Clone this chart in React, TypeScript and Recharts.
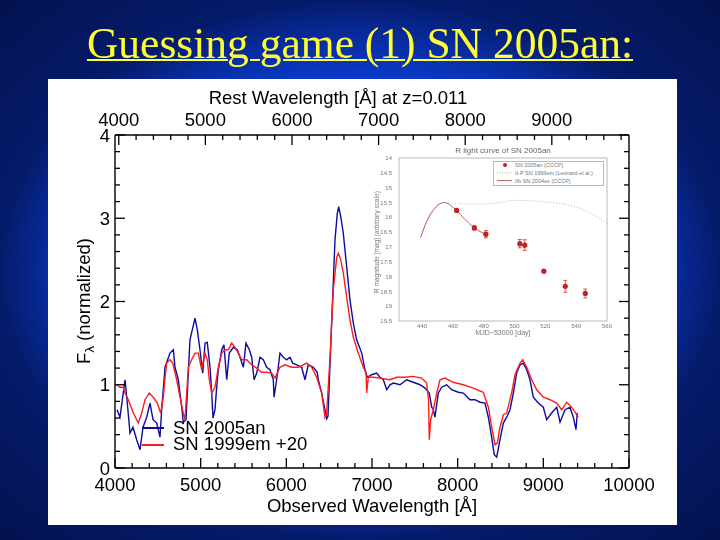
import { ComposedChart, Line, Scatter, ErrorBar, XAxis, YAxis, Legend } from "recharts";

// ---- spectrum data (observed wavelength in Å, normalized flux) ----
const blueWave = [
  4023, 4058, 4117, 4140, 4175, 4210, 4253, 4292, 4327, 4370,
  4409, 4444, 4487, 4525, 4545, 4584, 4642, 4681, 4700, 4739,
  4779, 4797, 4829, 4875, 4934, 4961, 4992, 5024, 5051, 5077,
  5109, 5129, 5144, 5167, 5187, 5206, 5246, 5272, 5304, 5334,
  5381, 5428, 5459, 5498, 5529, 5568, 5596, 5623, 5654, 5693,
  5731, 5771, 5809, 5848, 5856, 5887, 5926, 5965, 6004, 6043,
  6074, 6121, 6179, 6218, 6256, 6315, 6361, 6373, 6413, 6451,
  6471, 6486, 6529, 6568, 6595, 6611, 6635, 6665, 6705, 6743,
  6782, 6821, 6880, 6918, 6945, 6997, 7055, 7093, 7132, 7172,
  7210, 7249, 7327, 7405, 7482, 7560, 7619, 7669, 7697, 7716,
  7735, 7774, 7814, 7872, 7930, 8007, 8066, 8144, 8202, 8261,
  8319, 8358, 8397, 8427, 8456, 8494, 8533, 8572, 8611, 8650,
  8689, 8728, 8766, 8806, 8844, 8883, 8941, 9000, 9039, 9097,
  9156, 9195, 9253, 9311, 9350, 9381, 9396,
];
const blueFlux = [
  0.70, 0.61, 1.06, 0.82, 0.42, 0.49, 0.34, 0.22, 0.49, 0.61,
  0.78, 0.58, 0.54, 0.37, 0.70, 1.21, 1.38, 1.42, 1.21, 1.06,
  0.73, 0.55, 0.58, 1.54, 1.80, 1.66, 1.42, 1.14, 1.50, 1.51,
  1.21, 0.90, 0.60, 0.70, 0.97, 1.18, 1.42, 1.48, 1.06, 1.38,
  1.45, 1.42, 1.33, 1.21, 1.50, 1.42, 1.33, 1.06, 1.14, 1.33,
  1.30, 1.21, 1.18, 1.06, 0.85, 1.06, 1.38, 1.33, 1.30, 1.33,
  1.26, 1.24, 1.21, 1.06, 1.24, 1.21, 1.15, 1.06, 0.90, 0.70,
  0.59, 0.62, 1.74, 2.74, 3.06, 3.14, 3.02, 2.82, 2.41, 2.02,
  1.74, 1.54, 1.38, 1.18, 1.09, 1.12, 1.14, 1.09, 1.06, 0.94,
  1.00, 1.02, 1.00, 1.06, 1.03, 1.00, 0.96, 0.90, 0.73, 0.70,
  0.61, 0.90, 0.97, 1.00, 0.94, 0.91, 0.90, 0.82, 0.82, 0.79,
  0.78, 0.61, 0.37, 0.16, 0.13, 0.34, 0.54, 0.61, 0.70, 0.90,
  1.14, 1.24, 1.26, 1.18, 1.06, 0.85, 0.78, 0.73, 0.58, 0.66,
  0.73, 0.55, 0.70, 0.73, 0.61, 0.46, 0.66,
];
const redWave = [
  4023, 4058, 4097, 4117, 4155, 4214, 4272, 4312, 4350, 4400,
  4447, 4494, 4533, 4564, 4584, 4604, 4642, 4674, 4720, 4759,
  4797, 4817, 4856, 4895, 4934, 4972, 5012, 5051, 5077, 5101,
  5129, 5167, 5206, 5246, 5284, 5323, 5362, 5401, 5439, 5479,
  5537, 5596, 5654, 5712, 5771, 5829, 5868, 5926, 5984, 6063,
  6140, 6238, 6296, 6354, 6413, 6451, 6471, 6510, 6548, 6588,
  6607, 6635, 6665, 6705, 6743, 6782, 6840, 6898, 6930, 6938,
  6957, 7015, 7093, 7210, 7288, 7385, 7482, 7580, 7638, 7660,
  7669, 7685, 7716, 7755, 7794, 7852, 7949, 8066, 8182, 8299,
  8358, 8397, 8436, 8463, 8494, 8533, 8572, 8630, 8669, 8728,
  8759, 8806, 8864, 8922, 9000, 9078, 9156, 9214, 9273, 9331,
  9370, 9408,
];
const redFlux = [
  1.00, 0.97, 0.97, 0.90, 0.82, 0.66, 0.54, 0.66, 0.82, 0.90,
  0.85, 0.78, 0.66, 0.85, 1.09, 1.26, 1.30, 1.26, 1.06, 0.85,
  0.66, 0.58, 1.21, 1.30, 1.38, 1.38, 1.18, 1.38, 1.30, 1.06,
  0.90, 0.97, 1.21, 1.38, 1.42, 1.42, 1.50, 1.45, 1.38, 1.30,
  1.30, 1.24, 1.20, 1.15, 1.15, 1.14, 1.08, 1.21, 1.24, 1.21,
  1.21, 1.26, 1.21, 1.09, 0.90, 0.61, 0.66, 1.33, 2.14, 2.53,
  2.58, 2.50, 2.34, 2.05, 1.78, 1.57, 1.38, 1.21, 1.15, 0.90,
  1.09, 1.09, 1.08, 1.06, 1.09, 1.09, 1.10, 1.08, 1.02, 0.82,
  0.34, 0.58, 0.70, 0.90, 1.06, 1.08, 1.03, 1.00, 0.96, 0.91,
  0.73, 0.49, 0.28, 0.30, 0.49, 0.64, 0.66, 0.90, 1.12, 1.26,
  1.30, 1.21, 1.06, 0.94, 0.85, 0.82, 0.78, 0.70, 0.79, 0.73,
  0.67, 0.61,
];

const Z = 0.011;
const obsTicks = Array.from({ length: 31 }, (_, i) => 4000 + i * 200);
const restTicks = Array.from({ length: 30 }, (_, i) => 4000 + i * 200);
const fluxTicks = Array.from({ length: 21 }, (_, i) => +(i * 0.2).toFixed(1));
const specNames = ["SN 2005an", "SN 1999em +20"];

// ---- inset light curve ----
const lcDay = [462.4, 473.9, 481.4, 503.4, 506.6, 519.0, 532.9, 545.9];
const lcMag = [15.77, 16.36, 16.57, 16.89, 16.94, 17.82, 18.33, 18.57];
const lcErr = [0.04, 0.07, 0.12, 0.14, 0.18, 0.05, 0.2, 0.15];
const iipDay = [439, 446.5, 454.5, 462.8, 478, 490, 499.7, 517, 534.4, 547.4, 560];
const iipMag = [16.68, 15.86, 15.5, 15.55, 15.55, 15.5, 15.43, 15.47, 15.58, 15.81, 16.2];
const iibDay = [439, 443.3, 448.7, 454.5, 460.6, 469.3, 475.8, 481.4];
const iibMag = [16.68, 16.1, 15.66, 15.5, 15.69, 16.15, 16.43, 16.57];
const dayTicks = [440, 460, 480, 500, 520, 540, 560];
const magTicks = [14, 14.5, 15, 15.5, 16, 16.5, 17, 17.5, 18, 18.5, 19, 19.5];
const insetNames = ["SN 2005an (CCCP)", "II-P SN 1999em (Leonard et al.)", "IIb SN 2004ex (CCCP)"];

const blueData = blueWave.map((w, i) => ({ w, f: blueFlux[i] }));
const redData = redWave.map((w, i) => ({ w, f: redFlux[i] }));
const lcData = lcDay.map((d, i) => ({ d, m: lcMag[i], err: lcErr[i] }));
const iipData = iipDay.map((d, i) => ({ d, m: iipMag[i] }));
const iibData = iibDay.map((d, i) => ({ d, m: iibMag[i] }));

const FONT = "'Liberation Sans', Arial, Helvetica, sans-serif";
const FS = 18.5;
const BLUE = "#0c0ca0";
const RED = "#ff1c1c";
const near = (v: number, step: number) => Math.abs(v / step - Math.round(v / step)) < 1e-6;

function BottomTick({ x = 0, y = 0, payload }: any) {
  const v = payload?.value ?? 0;
  const major = near(v, 1000);
  return (
    <g>
      <line x1={x} y1={y} x2={x} y2={y - (major ? 10 : 5)} stroke="#000" strokeWidth={1.3} />
      {major && (
        <text x={x} y={y + 23} textAnchor="middle" fontSize={FS} fontFamily={FONT} fill="#000">
          {v}
        </text>
      )}
    </g>
  );
}

function TopTick({ x = 0, y = 0, payload }: any) {
  const v = payload?.value ?? 0;
  const major = near(v, 1000);
  return (
    <g>
      <line x1={x} y1={y} x2={x} y2={y + (major ? 10 : 5)} stroke="#000" strokeWidth={1.3} />
      {major && (
        <text x={x} y={y - 9} textAnchor="middle" fontSize={FS} fontFamily={FONT} fill="#000">
          {v}
        </text>
      )}
    </g>
  );
}

function LeftTick({ x = 0, y = 0, payload }: any) {
  const v = payload?.value ?? 0;
  const major = near(v, 1);
  return (
    <g>
      <line x1={x} y1={y} x2={x + (major ? 10 : 5)} y2={y} stroke="#000" strokeWidth={1.3} />
      {major && (
        <text x={x - 5} y={y + 6.5} textAnchor="end" fontSize={FS} fontFamily={FONT} fill="#000">
          {Math.round(v)}
        </text>
      )}
    </g>
  );
}

function RightTick({ x = 0, y = 0, payload }: any) {
  const v = payload?.value ?? 0;
  const major = near(v, 1);
  return <line x1={x} y1={y} x2={x - (major ? 10 : 5)} y2={y} stroke="#000" strokeWidth={1.3} />;
}

function InsetXTick({ x = 0, y = 0, payload }: any) {
  return (
    <text x={x} y={y + 7} textAnchor="middle" fontSize={6} fontFamily={FONT} fill="#777">
      {payload?.value}
    </text>
  );
}

function InsetYTick({ x = 0, y = 0, payload }: any) {
  return (
    <text x={x - 7} y={y + 2.2} textAnchor="end" fontSize={6} fontFamily={FONT} fill="#777">
      {payload?.value}
    </text>
  );
}

const frame = { stroke: "#000", strokeWidth: 1.4 };
const grayFrame = { stroke: "#a8a8a8", strokeWidth: 0.8 };

function SpecLegend({ payload }: any) {
  const items = specNames
    .map((n) => (payload ?? []).find((p: any) => p.value === n))
    .filter(Boolean);
  return (
    <svg width={200} height={42}>
      {items.map((it: any, i: number) => (
        <g key={it.value}>
          <line x1={4} x2={26} y1={12 + 17 * i} y2={12 + 17 * i} stroke={it.color} strokeWidth={2} />
          <text x={35} y={18 + 15.5 * i} fontSize={FS} fontFamily={FONT} fill="#000">
            {it.value}
          </text>
        </g>
      ))}
    </svg>
  );
}

function InsetLegend() {
  const rows = [4, 11.7, 19.6];
  return (
    <svg width={111} height={25}>
      <rect x={0.5} y={0.5} width={110} height={24} fill="#fff" stroke="#aaa" strokeWidth={0.8} />
      <circle cx={12} cy={rows[0]} r={2} fill="#c81e1e" />
      <line x1={4} x2={19} y1={rows[1]} y2={rows[1]} stroke="#a0a0a0" strokeWidth={0.8} strokeDasharray="1 1.5" />
      <line x1={4} x2={19} y1={rows[2]} y2={rows[2]} stroke="#c06060" strokeWidth={1} />
      {insetNames.map((n, i) => (
        <text key={n} x={22} y={rows[i] + 2} fontSize={5.5} fontFamily={FONT} fill="#777">
          {n}
        </text>
      ))}
    </svg>
  );
}

export default function App() {
  return (
    <div
      style={{
        position: "fixed",
        left: 0,
        top: 0,
        width: 720,
        height: 540,
        overflow: "hidden",
        background:
          "radial-gradient(ellipse at 50% 50%, #0d41d9 0%, #0b3bcc 50%, #082c9e 61%, #051b6a 71%, #03124f 100%)",
      }}
    >
      <div
        style={{
          position: "absolute",
          left: 0,
          top: 22,
          width: 720,
          textAlign: "center",
          fontFamily: "'Liberation Serif', 'Times New Roman', serif",
          fontSize: 43.5,
          lineHeight: "42px",
          color: "#ffff33",
          textDecoration: "underline",
          textDecorationThickness: 2,
          whiteSpace: "nowrap",
        }}
      >
        Guessing game (1) SN 2005an:
      </div>

      <div style={{ position: "absolute", left: 48, top: 79, width: 629, height: 446, background: "#fff" }}>
        <ComposedChart width={629} height={446} margin={{ top: 26, right: 28, bottom: 27, left: 27 }}>
          <XAxis
            xAxisId="obs"
            dataKey="w"
            type="number"
            domain={[4000, 10000]}
            allowDataOverflow
            ticks={obsTicks}
            interval={0}
            tickSize={0}
            tickMargin={0}
            tickLine={false}
            tick={BottomTick}
            axisLine={frame}
            height={30}
            label={() => (
              <text x={324} y={433} textAnchor="middle" fontSize={FS} fontFamily={FONT} fill="#000">
                Observed Wavelength [Å]
              </text>
            )}
          />
          {/* rest-frame axis of SN 2005an: same points, wavelength divided by (1+z) */}
          <XAxis
            xAxisId="rest"
            orientation="top"
            dataKey={(d: any) => d.w / (1 + Z)}
            type="number"
            domain={[4000 / (1 + Z), 10000 / (1 + Z)]}
            allowDataOverflow
            ticks={restTicks}
            interval={0}
            tickSize={0}
            tickMargin={0}
            tickLine={false}
            tick={TopTick}
            axisLine={frame}
            height={30}
            label={() => (
              <text x={290} y={25} textAnchor="middle" fontSize={FS} fontFamily={FONT} fill="#000">
                Rest Wavelength [Å] at z=0.011
              </text>
            )}
          />
          <YAxis
            yAxisId="f"
            type="number"
            domain={[0, 4]}
            allowDataOverflow
            ticks={fluxTicks}
            interval={0}
            tickSize={0}
            tickMargin={0}
            tickLine={false}
            tick={LeftTick}
            axisLine={frame}
            width={40}
            label={() => (
              <text
                x={42}
                y={222}
                transform="rotate(-90 42 222)"
                textAnchor="middle"
                fontSize={FS}
                fontFamily={FONT}
                fill="#000"
              >
                F
                <tspan dy={4} fontSize={13}>
                  λ
                </tspan>
                <tspan dy={-4}> (normalized)</tspan>
              </text>
            )}
          />
          <YAxis
            yAxisId="r"
            orientation="right"
            type="number"
            domain={[0, 4]}
            allowDataOverflow
            ticks={fluxTicks}
            interval={0}
            tickSize={0}
            tickMargin={0}
            tickLine={false}
            tick={RightTick}
            axisLine={frame}
            width={20}
          />
          <Legend
            layout="vertical"
            align="center"
            verticalAlign="middle"
            content={SpecLegend}
            wrapperStyle={{ left: 90, top: 337, width: 200, height: 42 }}
          />
          <Line
            xAxisId="rest"
            yAxisId="f"
            data={blueData}
            dataKey="f"
            name={specNames[0]}
            type="linear"
            stroke={BLUE}
            strokeWidth={1.4}
            dot={false}
            isAnimationActive={false}
          />
          <Line
            xAxisId="obs"
            yAxisId="f"
            data={redData}
            dataKey="f"
            name={specNames[1]}
            type="linear"
            stroke={RED}
            strokeWidth={1.4}
            dot={false}
            isAnimationActive={false}
          />
        </ComposedChart>
      </div>

      <div style={{ position: "absolute", left: 360, top: 140, width: 260, height: 200 }}>
        <ComposedChart width={260} height={200} margin={{ top: 8, right: 12, bottom: 0, left: 0 }}>
          <XAxis
            xAxisId="b"
            dataKey="d"
            type="number"
            domain={[425, 560]}
            allowDataOverflow
            ticks={dayTicks}
            interval={0}
            tickLine={false}
            tickSize={0}
            tickMargin={0}
            tick={InsetXTick}
            axisLine={grayFrame}
            height={19}
            label={() => (
              <text x={143} y={195} textAnchor="middle" fontSize={7} fontFamily={FONT} fill="#777">
                MJD−53000 [day]
              </text>
            )}
          />
          <XAxis
            xAxisId="t"
            orientation="top"
            type="number"
            domain={[425, 560]}
            allowDataOverflow
            tick={false}
            tickLine={false}
            axisLine={grayFrame}
            height={10}
            label={() => (
              <text x={143} y={13} textAnchor="middle" fontSize={8} fontFamily={FONT} fill="#666">
                R light curve of SN 2005an
              </text>
            )}
          />
          <YAxis
            yAxisId="l"
            dataKey="m"
            type="number"
            domain={[14, 19.5]}
            reversed
            allowDataOverflow
            ticks={magTicks}
            interval={0}
            tickLine={false}
            tickSize={0}
            tickMargin={0}
            tick={InsetYTick}
            axisLine={grayFrame}
            width={39}
            label={() => (
              <text
                x={19}
                y={102}
                transform="rotate(-90 19 102)"
                textAnchor="middle"
                fontSize={6.5}
                fontFamily={FONT}
                fill="#777"
              >
                R magnitude [mag] (arbitrary scale)
              </text>
            )}
          />
          <YAxis
            yAxisId="r"
            orientation="right"
            type="number"
            domain={[14, 19.5]}
            reversed
            tick={false}
            tickLine={false}
            axisLine={grayFrame}
            width={1}
          />
          <Legend
            layout="vertical"
            align="center"
            verticalAlign="middle"
            content={InsetLegend}
            wrapperStyle={{ left: 133, top: 21, width: 111, height: 25 }}
          />
          <Line
            xAxisId="b"
            yAxisId="l"
            data={iipData}
            dataKey="m"
            name={insetNames[1]}
            type="monotone"
            stroke="#a0a0a0"
            strokeWidth={0.8}
            strokeDasharray="1 2"
            dot={false}
            isAnimationActive={false}
          />
          <Line
            xAxisId="b"
            yAxisId="l"
            data={iibData}
            dataKey="m"
            name={insetNames[2]}
            type="monotone"
            stroke="#c06060"
            strokeWidth={1}
            dot={false}
            isAnimationActive={false}
          />
          <Scatter
            xAxisId="b"
            yAxisId="l"
            data={lcData}
            dataKey="m"
            name={insetNames[0]}
            fill="#c81e1e"
            shape={(p: any) => <circle cx={p.cx} cy={p.cy} r={2.6} fill="#c81e1e" />}
            isAnimationActive={false}
          >
            <ErrorBar dataKey="err" direction="y" width={2} stroke="#d04848" strokeWidth={0.9} />
          </Scatter>
        </ComposedChart>
      </div>
    </div>
  );
}
